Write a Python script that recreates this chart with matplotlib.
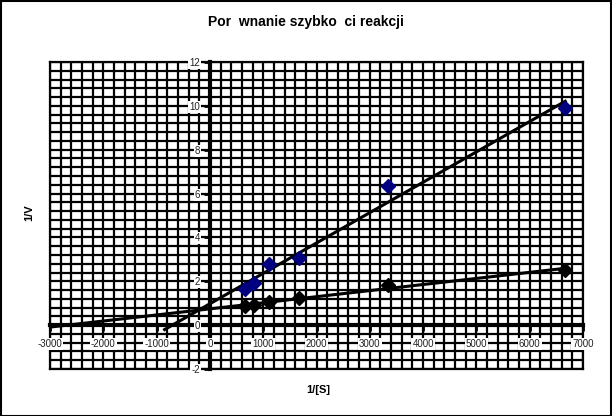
import numpy as np
import matplotlib
matplotlib.use('Agg')
import matplotlib.pyplot as plt
from matplotlib.ticker import MultipleLocator

plt.rcParams['font.family'] = ['Liberation Sans', 'DejaVu Sans']
plt.rcParams['axes.unicode_minus'] = False

# ---- dane ----
inv_s = [667, 833, 1111, 1667, 3333, 6667]          # 1/[S]
inv_v_a = [1.64, 1.90, 2.78, 3.07, 6.34, 9.90]      # seria niebieska
inv_v_b = [0.87, 0.91, 1.05, 1.23, 1.85, 2.51]      # seria czarna
trend_start_a = -850
trend_start_b = -3000
x_ticks = [-3000, -2000, -1000, 0, 1000, 2000, 3000, 4000, 5000, 6000, 7000]
y_ticks = [-2, 0, 2, 4, 6, 8, 10, 12]

title = 'Por  wnanie szybko  ci reakcji'

fig = plt.figure(figsize=(6.12, 4.16), dpi=100)
rect = [50 / 612, 1 - 369 / 416, 533 / 612, 307 / 416]

# ---- siatka na osobnych osiach pod spodem ----
bg = fig.add_axes(rect, zorder=0)
bg.set_xlim(-3000, 7000)
bg.set_ylim(-2, 12)
bg.xaxis.set_major_locator(MultipleLocator(200))
bg.yaxis.set_major_locator(MultipleLocator(0.4))
bg.grid(color='black', linewidth=1.6)
bg.tick_params(length=0, labelbottom=False, labelleft=False)
for s in bg.spines.values():
    s.set_linewidth(1.6)

ax = fig.add_axes(rect, zorder=1)
ax.patch.set_alpha(0)
ax.set_xlim(-3000, 7000)
ax.set_ylim(-2, 12)
ax.set_xticks(x_ticks)
ax.set_yticks(y_ticks)

# ---- osie przez zero ----
ax.spines['left'].set_position(('data', 0))
ax.spines['bottom'].set_position(('data', 0))
ax.spines['left'].set_linewidth(3)
ax.spines['bottom'].set_linewidth(3)
ax.spines['left'].set_zorder(1.2)
ax.spines['bottom'].set_zorder(1.2)
ax.spines['top'].set_visible(False)
ax.spines['right'].set_visible(False)

ax.tick_params(direction='out', length=4, width=2, labelsize=7, pad=3, labelcolor='#222222')
ax.tick_params(axis='x', pad=6)
for lbl in ax.get_xticklabels() + ax.get_yticklabels():
    lbl.set_bbox(dict(facecolor='white', edgecolor='none', pad=0.8))

# ---- linie trendu ----
for ys, x0 in [(inv_v_a, trend_start_a), (inv_v_b, trend_start_b)]:
    k, b = np.polyfit(inv_s, ys, 1)
    xx = np.array([x0, max(inv_s)])
    ax.plot(xx, k * xx + b, color='black', linewidth=2.2, zorder=3)

ax.plot(inv_s, inv_v_a, linestyle='none', marker='D', markersize=7, color='#000080', zorder=4)
ax.plot(inv_s, inv_v_b, linestyle='none', marker='D', markersize=7, color='black', zorder=4)

# ---- opisy ----
fig.text(0.5, 1 - 22 / 416, title, ha='center', va='center', fontsize=10, fontweight='bold')
fig.text(318 / 612, 1 - 390 / 416, '1/[S]', ha='center', va='center', fontsize=8, fontweight='bold')
fig.text(29 / 612, 1 - 213 / 416, '1/V', ha='center', va='center', fontsize=8, fontweight='bold', rotation=90)

# ramka wykresu
fig.patches.append(plt.Rectangle((0.001, 0.001), 0.997, 0.996, transform=fig.transFigure,
                                 fill=False, edgecolor='black', linewidth=1.5))

fig.savefig('out.png', dpi=100)
